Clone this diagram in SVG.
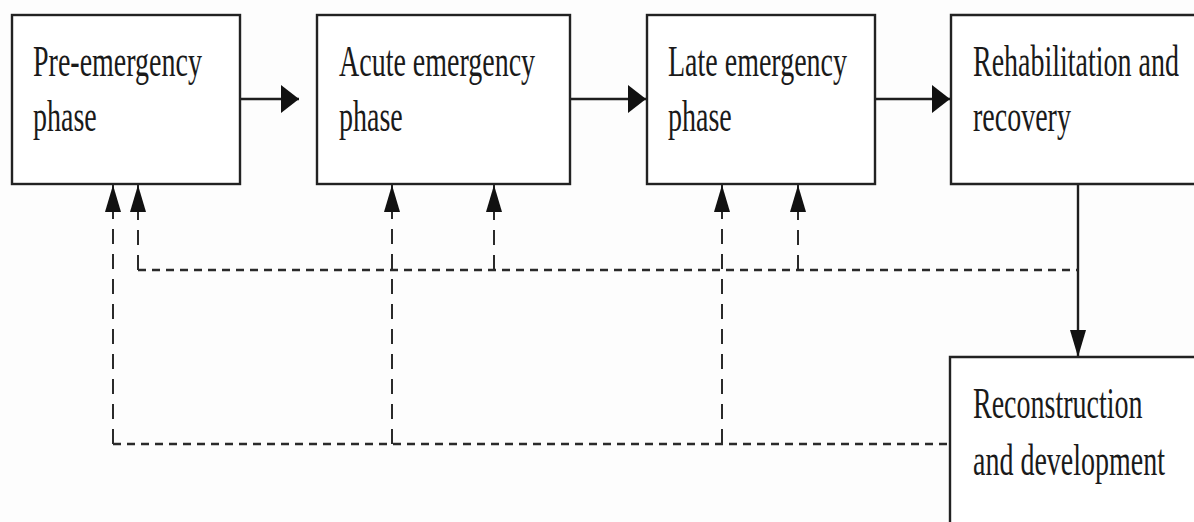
<svg xmlns="http://www.w3.org/2000/svg" width="1194" height="522" viewBox="0 0 1194 522">
  <style>
    .box { fill: #ffffff; stroke: #222222; stroke-width: 2.4; }
    .fill { fill: #ffffff; stroke: none; }
    .edge { fill: none; stroke: #222222; stroke-width: 2.4; }
    .lbl { font-family: "Liberation Serif", "Times New Roman", serif; font-size: 28px; fill: #1a1a1a; }
    .solid { fill: none; stroke: #1e1e1e; stroke-width: 2.4; }
    .dh { fill: none; stroke: #2a2a2a; stroke-width: 2.6; stroke-dasharray: 8 6; }
    .dv { fill: none; stroke: #2a2a2a; stroke-width: 2; stroke-dasharray: 15 10; }
  </style>
  <defs>
    <marker id="arrowH" markerUnits="userSpaceOnUse" markerWidth="18" markerHeight="28" viewBox="0 0 18 28" refX="18" refY="14" orient="auto">
      <path d="M0,0 L18,14 L0,28 Z" fill="#111111"/>
    </marker>
    <marker id="arrowV" markerUnits="userSpaceOnUse" markerWidth="27" markerHeight="16" viewBox="0 0 27 16" refX="27" refY="8" orient="auto">
      <path d="M0,0 L27,8 L0,16 Z" fill="#111111"/>
    </marker>
  </defs>
  <rect x="0" y="0" width="1194" height="522" fill="#fdfdfd"/>

  <g id="connectors">
    <path class="solid" d="M240,99 H299" marker-end="url(#arrowH)"/>
    <path class="solid" d="M570,99 H646" marker-end="url(#arrowH)"/>
    <path class="solid" d="M875,99 H950" marker-end="url(#arrowH)"/>
    <path class="solid" d="M1078,185 V357" marker-end="url(#arrowV)"/>

    <path class="dh" d="M138,270 H1078"/>
    <path class="dv" d="M138,270 V185" marker-end="url(#arrowV)"/>
    <path class="dv" d="M494,270 V185" marker-end="url(#arrowV)"/>
    <path class="dv" d="M798,270 V185" marker-end="url(#arrowV)"/>

    <path class="dh" d="M113,444 H950"/>
    <path class="dv" d="M113,444 V185" marker-end="url(#arrowV)"/>
    <path class="dv" d="M392,444 V185" marker-end="url(#arrowV)"/>
    <path class="dv" d="M722,444 V185" marker-end="url(#arrowV)"/>
  </g>

  <g id="pre-emergency">
    <rect class="box" x="12" y="15" width="228" height="169"/>
    <text class="lbl" transform="translate(33,76) scale(1,1.57)">Pre-emergency</text>
    <text class="lbl" transform="translate(33,131) scale(1,1.57)">phase</text>
  </g>

  <g id="acute-emergency">
    <rect class="box" x="317" y="15" width="253" height="169"/>
    <text class="lbl" transform="translate(339,76) scale(1,1.57)">Acute emergency</text>
    <text class="lbl" transform="translate(339,131) scale(1,1.57)">phase</text>
  </g>

  <g id="late-emergency">
    <rect class="box" x="647" y="15" width="228" height="169"/>
    <text class="lbl" transform="translate(668,76) scale(1,1.57)">Late emergency</text>
    <text class="lbl" transform="translate(668,131) scale(1,1.57)">phase</text>
  </g>

  <g id="rehabilitation">
    <rect class="fill" x="951" y="15" width="243" height="169"/>
    <path class="edge" d="M1194,15 H951 V184 H1194"/>
    <text class="lbl" transform="translate(973,76) scale(1,1.57)">Rehabilitation and</text>
    <text class="lbl" transform="translate(973,131) scale(1,1.57)">recovery</text>
  </g>

  <g id="reconstruction">
    <rect class="fill" x="950" y="357" width="244" height="165"/>
    <path class="edge" d="M1194,357 H950 V522"/>
    <text class="lbl" transform="translate(973,418) scale(1,1.57)">Reconstruction</text>
    <text class="lbl" transform="translate(973,475) scale(1,1.57)">and development</text>
  </g>
</svg>
